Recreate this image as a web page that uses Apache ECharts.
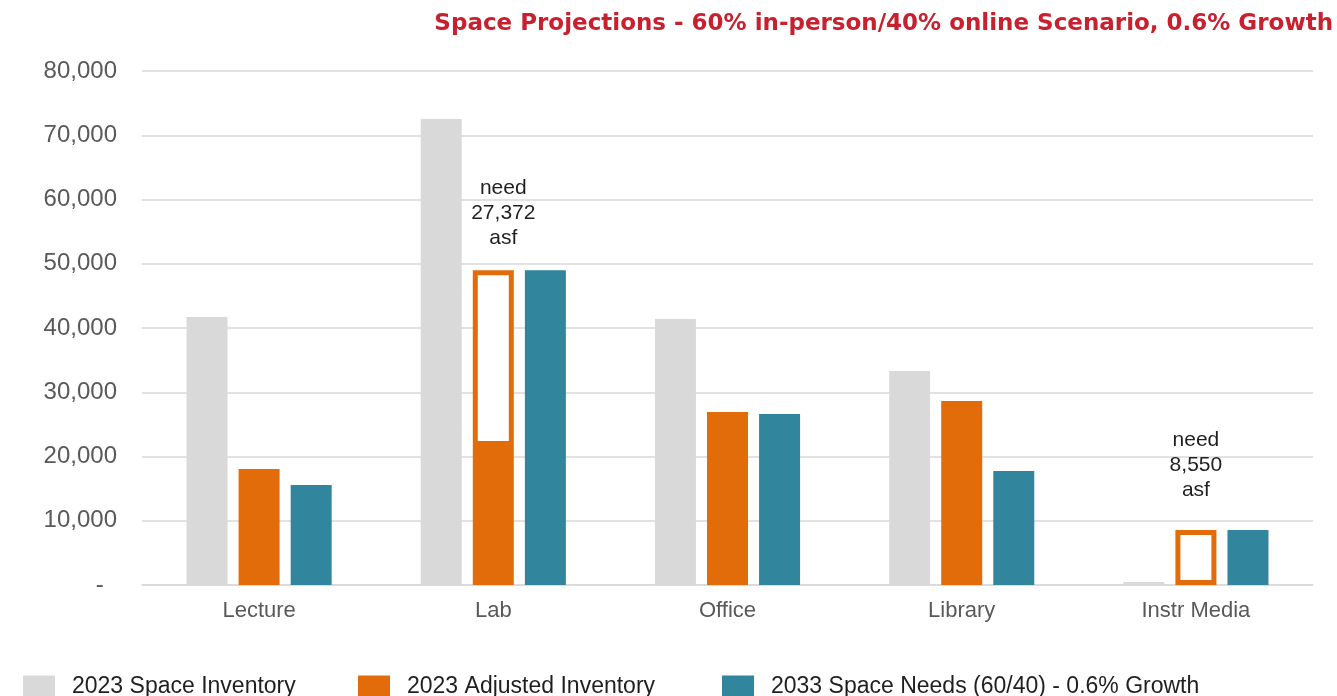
<!DOCTYPE html>
<html>
<head>
<meta charset="utf-8">
<script src="https://cdn.jsdelivr.net/npm/echarts@6/dist/echarts.min.js"></script>
<style>
  html, body { margin: 0; padding: 0; background: #fff; }
  #chart { width: 1337px; height: 696px; }
</style>
</head>
<body>
<div id="chart"></div>
<script>
// Space categories and assignable square footage per series
const categories = ['Lecture', 'Lab', 'Office', 'Library', 'Instr Media'];
const inventory2023 = [41700, 72530, 41400, 33300, 450];
const adjustedInventory2023 = [18050, 21628, 26930, 28640, 0];
// Additional space needed on top of the adjusted inventory (outlined segment)
const spaceNeed = ['-', 27372, '-', '-', 8550];
const needs2033 = [15560, 49000, 26610, 17740, 8550];
const yTicks = { min: 0, max: 80000, interval: 10000 };

const FONT = '"Liberation Sans", Arial, sans-serif';
const GRAY = '#D9D9D9', ORANGE = '#E36C0A', TEAL = '#31859C';

const chart = echarts.init(document.getElementById('chart'), null, { renderer: 'canvas' });

const needData = spaceNeed.map((v, i) => {
  if (v === '-') return v;
  const lab = categories[i] === 'Lab';
  return {
    value: v,
    label: {
      show: true,
      position: 'top',
      distance: lab ? 19 : 27,
      offset: lab ? [10, 0] : [0, 0],
      formatter: () => 'need\n' + v.toLocaleString('en-US') + '\nasf'
    }
  };
});

const legendBase = {
  top: 675,
  padding: 0,
  itemWidth: 32,
  itemHeight: 22,
  icon: 'rect',
  textStyle: { fontFamily: FONT, fontSize: 23, color: '#1f1f1f', padding: [0, 0, 0, 12] }
};

chart.setOption({
  animation: false,
  title: {
    text: 'Space Projections - 60% in-person/40% online Scenario, 0.6% Growth',
    right: 4,
    top: 13,
    padding: 0,
    textStyle: { fontFamily: '"DejaVu Sans", sans-serif', fontWeight: 'bold', fontSize: 23, color: '#C8202F' }
  },
  legend: [
    Object.assign({ left: 23, data: ['2023 Space Inventory'] }, legendBase),
    Object.assign({ left: 358, data: ['2023 Adjusted Inventory'] }, legendBase),
    Object.assign({ left: 722, data: ['2033 Space Needs (60/40) - 0.6% Growth'] }, legendBase)
  ],
  grid: { left: 142, right: 24, top: 71, height: 514, containLabel: false },
  xAxis: {
    type: 'category',
    data: categories,
    axisLine: { lineStyle: { color: '#D9D9D9', width: 1.5 } },
    axisTick: { show: false },
    axisLabel: { fontFamily: FONT, fontSize: 22, color: '#595959', margin: 15 }
  },
  yAxis: {
    type: 'value',
    min: yTicks.min,
    max: yTicks.max,
    interval: yTicks.interval,
    axisLine: { show: false },
    axisTick: { show: false },
    splitLine: { lineStyle: { color: '#D9D9D9', width: 1.5 } },
    axisLabel: {
      fontFamily: FONT, fontSize: 24, color: '#595959', margin: 25,
      formatter: v => v === 0 ? '-  ' : v.toLocaleString('en-US')
    }
  },
  series: [
    {
      name: '2023 Space Inventory', type: 'bar', data: inventory2023,
      barWidth: 41, barGap: '27%',
      itemStyle: { color: GRAY }
    },
    {
      name: '2023 Adjusted Inventory', type: 'bar', data: adjustedInventory2023,
      stack: 'adjusted', barWidth: 41, barGap: '27%',
      itemStyle: { color: ORANGE }
    },
    {
      name: 'Space Need', type: 'bar', data: needData,
      stack: 'adjusted', barWidth: 41, barGap: '27%',
      itemStyle: { color: '#FFFFFF', borderColor: ORANGE, borderWidth: 5 },
      label: { fontFamily: FONT, fontSize: 21, color: '#1f1f1f', lineHeight: 25 }
    },
    {
      name: '2033 Space Needs (60/40) - 0.6% Growth', type: 'bar', data: needs2033,
      barWidth: 41, barGap: '27%',
      itemStyle: { color: TEAL }
    }
  ]
});
</script>
</body>
</html>
